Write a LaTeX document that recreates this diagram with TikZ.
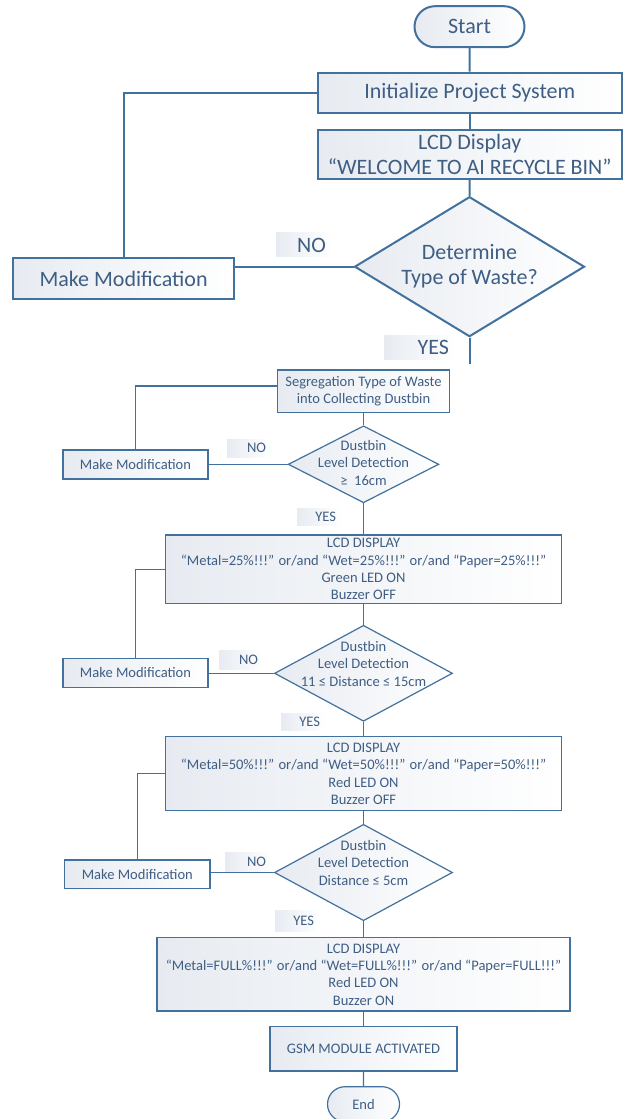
\documentclass[tikz,border=0pt]{standalone}
\usepackage{fontspec}
\setmainfont{Carlito}
\usepackage{xcolor}
\usepackage{tikz}
\usetikzlibrary{shapes.geometric,shapes.misc}

\definecolor{edgeblue}{HTML}{41719C}
\definecolor{inkblue}{HTML}{3F5E84}
\definecolor{paleblue}{HTML}{E7EBF1}

\newcommand{\pix}{0.75pt}
\newcommand{\bigtxt}{\fontsize{16.5}{18.75}\selectfont}
\newcommand{\smalltxt}{\fontsize{10.9}{13}\selectfont}
\newcommand{\dtext}[1]{\makebox[0pt]{\begin{tabular}{@{}c@{}}#1\end{tabular}}}

\begin{document}
\begin{tikzpicture}[x=0.75pt,y=-0.75pt,inner sep=0pt,
  proc/.style={rectangle,draw=edgeblue,left color=paleblue,right color=white,text=inkblue,align=center},
  term/.style={rounded rectangle,draw=edgeblue,left color=paleblue,right color=white,text=inkblue},
  decide/.style={diamond,draw=edgeblue,left color=paleblue,right color=white,text=inkblue},
  tagbox/.style={left color=paleblue,right color=white,text=inkblue,align=right,inner xsep=5*\pix},
  bigpart/.style={line width=1.5pt,font=\bigtxt},
  smallpart/.style={line width=0.9pt,font=\smalltxt}]
\useasboundingbox (0,0) rectangle (623,1119);

% upper chart
\node[term,bigpart,minimum width=110*\pix,minimum height=41*\pix] (start) at (469.5,26.7) {Start};
\node[proc,bigpart,minimum width=304*\pix,minimum height=40.6*\pix] (init) at (469.75,93) {Initialize Project System};
\node[proc,bigpart,minimum width=304*\pix,minimum height=49*\pix] (lcd) at (469.75,154.5) {LCD Display\\“WELCOME TO AI RECYCLE BIN”};
\node[decide,bigpart,minimum width=230*\pix,minimum height=140*\pix] (type) at (469.5,266.7) {\dtext{Determine\\Type of Waste?}};
\node[proc,bigpart,minimum width=221.6*\pix,minimum height=41*\pix] (mod1) at (123.6,278.8) {Make Modification};
\node[tagbox,bigpart,text width=45*\pix,minimum height=24*\pix] (no1) at (303.5,245) {NO};
\node[tagbox,bigpart,text width=60*\pix,minimum height=23.5*\pix] (yes1) at (419,347.3) {YES};
\coordinate (cut) at (469.5,364);

\path[draw=edgeblue,line width=1.5pt] (start) edge (init) (init) edge (lcd) (lcd) edge (type)
  (type.south) edge (cut) (type.west) edge (type.west -| mod1.east);
\draw[edgeblue,line width=1.5pt] (init.west) -| (mod1.north);

% lower chart
\node[proc,smallpart,minimum width=172*\pix,minimum height=42.7*\pix] (seg) at (363.5,391.3) {Segregation Type of Waste\\into Collecting Dustbin};
\node[proc,smallpart,minimum width=145*\pix,minimum height=29*\pix] (mod2) at (135.5,464.5) {Make Modification};
\node[decide,smallpart,minimum width=150.6*\pix,minimum height=77*\pix] (bin1) at (363.5,464.3) {\dtext{Dustbin\\Level Detection\\≥\ \ 16cm}};
\node[tagbox,smallpart,text width=34*\pix,minimum height=18*\pix] (no2) at (249,448) {NO};
\node[tagbox,smallpart,text width=34*\pix,minimum height=17*\pix] (yes2) at (319,516.5) {YES};

\node[proc,smallpart,minimum width=396.5*\pix,minimum height=68.3*\pix] (lvl25) at (363.5,569.2) {LCD DISPLAY\\“Metal=25\%!!!” or/and “Wet=25\%!!!” or/and “Paper=25\%!!!”\\Green LED ON\\Buzzer OFF};
\node[proc,smallpart,minimum width=145*\pix,minimum height=29*\pix] (mod3) at (135.5,672.8) {Make Modification};
\node[decide,smallpart,minimum width=178*\pix,minimum height=96*\pix] (bin2) at (363.5,673.3) {\dtext{Dustbin\\Level Detection\\11 ≤ Distance ≤ 15cm\\[12pt]}};
\node[tagbox,smallpart,text width=34*\pix,minimum height=19*\pix] (no3) at (241,660.3) {NO};
\node[tagbox,smallpart,text width=34*\pix,minimum height=17*\pix] (yes3) at (303,721.5) {YES};

\node[proc,smallpart,minimum width=396.6*\pix,minimum height=74*\pix] (lvl50) at (363.5,773.7) {LCD DISPLAY\\“Metal=50\%!!!” or/and “Wet=50\%!!!” or/and “Paper=50\%!!!”\\Red LED ON\\Buzzer OFF};
\node[proc,smallpart,minimum width=145.4*\pix,minimum height=28.3*\pix] (mod4) at (137.3,874.2) {Make Modification};
\node[decide,smallpart,minimum width=178*\pix,minimum height=96.4*\pix] (bin3) at (363.5,872.5) {\dtext{Dustbin\\Level Detection\\Distance ≤ 5cm\\[12pt]}};
\node[tagbox,smallpart,text width=36*\pix,minimum height=19*\pix] (no4) at (248,862) {NO};
\node[tagbox,smallpart,text width=34*\pix,minimum height=21*\pix] (yes4) at (297,920.5) {YES};

\node[proc,smallpart,minimum width=413*\pix,minimum height=73.3*\pix] (lvlfull) at (363.5,974.4) {LCD DISPLAY\\“Metal=FULL\%!!!” or/and “Wet=FULL\%!!!” or/and “Paper=FULL!!!”\\Red LED ON\\Buzzer ON};
\node[proc,smallpart,minimum width=187*\pix,minimum height=44.3*\pix] (gsm) at (363.5,1048.9) {GSM MODULE ACTIVATED};
\node[term,smallpart,minimum width=72*\pix,minimum height=35*\pix] (stop) at (363.5,1104.2) {End};

\path[draw=edgeblue,line width=0.9pt] (seg) edge (bin1) (bin1) edge (lvl25) (lvl25) edge (bin2)
  (bin2) edge (lvl50) (lvl50) edge (bin3) (bin3) edge (lvlfull) (lvlfull) edge (gsm) (gsm) edge (stop)
  (bin1.west) edge (bin1.west -| mod2.east) (bin2.west) edge (bin2.west -| mod3.east)
  (bin3.west) edge (bin3.west -| mod4.east);
\draw[edgeblue,line width=0.9pt] ([yshift=4pt]seg.west) -| (mod2.north) (lvl25.west) -| (mod3.north)
  (lvl50.west) -| (mod4.north);
\end{tikzpicture}
\end{document}
